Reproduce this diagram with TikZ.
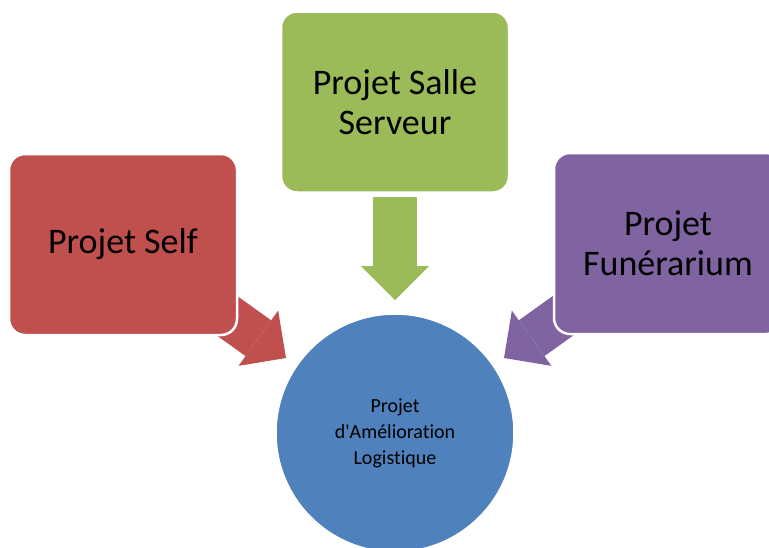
\documentclass[tikz,border=0pt]{standalone}
\usepackage{fontspec}
\setmainfont{Carlito}[Ligatures=NoCommon]
\usepackage{tikz}
\usetikzlibrary{arrows.meta}

\definecolor{selfred}{HTML}{C0504D}
\definecolor{sallegreen}{HTML}{9BBB59}
\definecolor{funerpurple}{HTML}{8064A2}
\definecolor{logiblue}{HTML}{4F81BD}

\tikzset{
  projbox/.style={draw=white, line width=2.5pt, rounded corners=16pt, minimum width=228pt, minimum height=181pt, inner sep=0pt, align=center, font=\fontsize{36}{40}\selectfont},
  projcircle/.style={circle, draw=white, line width=2.5pt, minimum size=239pt, inner sep=0pt, align=center, font=\fontsize{20}{26}\selectfont},
  bigarrow/.style={line width=44pt, -{Triangle[length=34pt, width=68pt, line width=0pt]}}
}

\begin{document}
\begin{tikzpicture}[x=1pt,y=-1pt]
%%Frame
\clip (0,0) rectangle (769,547);
\fill[white] (0,0) rectangle (769,547);
%%Arrow ends
\coordinate (selfout) at (205,300);
\coordinate (selfin) at (286,358);
\coordinate (salleout) at (395,197);
\coordinate (sallein) at (395,300);
\coordinate (funerout) at (585,300);
\coordinate (funerin) at (504,358);
%%Arrows
\draw[bigarrow, selfred] (selfout) -- (selfin);
\draw[bigarrow, sallegreen] (salleout) -- (sallein);
\draw[bigarrow, funerpurple] (funerout) -- (funerin);
%%Boxes
\draw (123,244.5) node [projbox, fill=selfred] (self) {Projet Self};
\draw (395,102) node [projbox, fill=sallegreen] (salle) {Projet Salle\\Serveur};
\draw (668,243.5) node [projbox, fill=funerpurple] (funer) {Projet\\Fun\'erarium};
%%Centre
\draw (395,433) node [projcircle, fill=logiblue] (logistique) {Projet\\d\textquotesingle Am\'elioration\\Logistique};
\end{tikzpicture}
\end{document}
